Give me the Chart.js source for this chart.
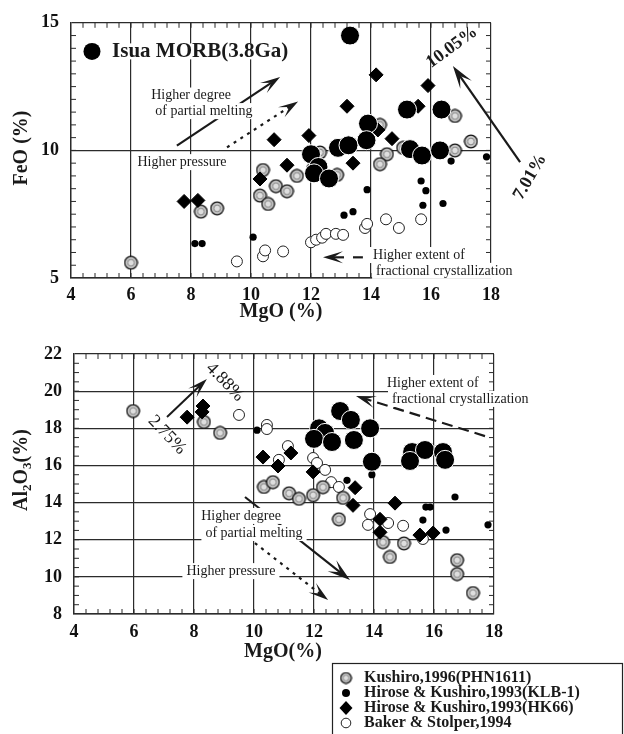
<!DOCTYPE html>
<html>
<head>
<meta charset="utf-8">
<script src="https://cdn.jsdelivr.net/npm/chart.js@4.4.1/dist/chart.umd.min.js"></script>
<style>
  body { margin: 0; background: #fff; width: 624px; height: 734px; overflow: hidden; position: relative; }
  canvas { position: absolute; left: 0; }
  #top { top: 0; }
  #bot { top: 325px; }
</style>
</head>
<body>
<canvas id="top" width="624" height="325"></canvas>
<canvas id="bot" width="624" height="409"></canvas>
<script>
/* tick values */
var mgoTicks = [4, 6, 8, 10, 12, 14, 16, 18];
var feoTicks = [5, 10, 15];
var alTicks = [8, 10, 12, 14, 16, 18, 20, 22];

/* FeO vs MgO, pairs are [MgO, FeO] */
var isuaFeO = [[13.3,14.5],[15.2,11.6],[16.35,11.6],[13.9,11.05],[13.85,10.4],[12.9,10.1],[13.25,10.2],
  [12.0,9.85],[12.25,9.35],[12.1,9.1],[12.6,8.9],[15.3,10.05],[15.7,9.8],[16.3,10.0]];
var kushiroFeO = [[6.0,5.6],[8.33,7.6],[8.87,7.73],[10.4,9.23],[10.83,8.6],[11.2,8.4],[11.53,9.0],[10.3,8.23],
  [10.57,7.9],[12.07,9.27],[12.3,9.92],[12.87,9.04],[14.3,11.0],[14.53,9.85],[14.3,9.46],[15.07,10.1],
  [16.8,11.35],[16.8,10.0],[17.33,10.35]];
var klbFeO = [[8.13,6.35],[8.37,6.35],[10.07,6.6],[13.1,7.46],[13.4,7.6],[13.87,8.46],[15.67,8.8],[15.83,8.42],
  [15.73,7.85],[16.4,7.92],[16.67,9.58],[17.85,9.75]];
var hk66FeO = [[7.77,8.0],[8.23,8.04],[10.3,8.88],[11.2,9.42],[10.77,10.42],[11.93,10.58],[13.2,11.73],[13.4,9.5],
  [14.23,10.8],[14.7,10.46],[15.57,11.73],[14.17,12.96],[15.9,12.54]];
var bakerFeO = [[9.53,5.65],[10.4,5.85],[10.47,6.08],[11.07,6.04],[12.0,6.4],[12.17,6.5],[12.37,6.58],[12.5,6.73],
  [12.83,6.73],[13.07,6.69],[13.8,6.96],[13.87,7.12],[14.5,7.3],[14.93,6.96],[15.67,7.3]];

/* Al2O3 vs MgO, pairs are [MgO, Al2O3] */
var isuaAl = [[12.87,18.93],[13.23,18.45],[13.87,18.0],[12.17,18.0],[12.37,17.75],[12.0,17.43],[12.6,17.26],
  [13.33,17.37],[13.93,16.2],[15.27,16.72],[15.7,16.83],[16.3,16.72],[15.2,16.24],[16.37,16.3]];
var kushiroAl = [[5.97,18.93],[8.33,18.34],[8.87,17.75],[10.33,14.84],[10.63,15.1],[11.17,14.5],[11.5,14.2],
  [11.97,14.4],[12.3,14.83],[12.97,14.25],[12.83,13.1],[14.3,11.87],[14.53,11.07],[15.0,11.8],[16.77,10.9],
  [16.77,10.15],[17.3,9.13]];
var klbAl = [[10.1,17.9],[13.93,15.5],[13.1,15.2],[16.7,14.3],[15.73,13.76],[15.87,13.76],[15.63,13.06],
  [16.4,12.52],[17.8,12.8]];
var hk66Al = [[7.77,18.6],[8.3,19.2],[8.27,18.88],[10.3,16.45],[10.8,15.97],[11.23,16.67],[11.97,15.65],
  [13.37,14.8],[13.3,13.85],[14.7,13.97],[14.2,13.1],[14.2,12.4],[15.53,12.25],[15.97,12.36]];
var bakerAl = [[9.5,18.72],[10.43,18.18],[10.43,17.96],[11.13,17.04],[10.83,16.3],[11.97,16.4],[12.1,16.13],
  [12.37,15.76],[12.57,15.1],[12.83,14.84],[13.87,13.38],[13.8,12.8],[14.47,12.9],[14.97,12.75],[15.63,12.04]];

var seriesNames = ['Kushiro,1996(PHN1611)', 'Hirose & Kushiro,1993(KLB-1)',
  'Hirose & Kushiro,1993(HK66)', 'Baker & Stolper,1994'];

var FONT = "'Liberation Serif', 'DejaVu Serif', serif";
var INK = '#1a1a1a';

function xy(arr) {
  return arr.map(function (p) { return { x: p[0], y: p[1] }; });
}

/* grey dotted circle marker */
function makeKushiro(size) {
  var c = document.createElement('canvas');
  c.width = size; c.height = size;
  var g = c.getContext('2d'), m = size / 2;
  g.beginPath(); g.arc(m, m, m - 1.2, 0, Math.PI * 2);
  g.fillStyle = '#c9c9c9'; g.fill();
  g.lineWidth = 1.3; g.strokeStyle = '#111'; g.stroke();
  g.beginPath(); g.arc(m, m, m * 0.45, 0, Math.PI * 2);
  g.fillStyle = '#dedede'; g.fill();
  g.lineWidth = 0.9; g.strokeStyle = '#777'; g.stroke();
  return c;
}
var kusImg = makeKushiro(15);
var kusSmall = makeKushiro(13);

function datasets(isua, kus, klb, hk, bak) {
  return [
    { label: 'Isua MORB(3.8Ga)', data: xy(isua), pointStyle: 'circle', pointRadius: 9.5,
      backgroundColor: '#000', borderColor: '#fff', borderWidth: 1 },
    { label: seriesNames[2], data: xy(hk), pointStyle: 'rectRot', pointRadius: 7,
      backgroundColor: '#000', borderColor: '#000', borderWidth: 1 },
    { label: seriesNames[1], data: xy(klb), pointStyle: 'circle', pointRadius: 3.6,
      backgroundColor: '#000', borderColor: '#000', borderWidth: 0 },
    { label: seriesNames[0], data: xy(kus), pointStyle: kusImg, pointRadius: 7 },
    { label: seriesNames[3], data: xy(bak), pointStyle: 'circle', pointRadius: 5.5,
      backgroundColor: '#fff', borderColor: '#222', borderWidth: 1 }
  ];
}

function axis(min, max, ticksArr, pad, fit, isX) {
  return {
    type: 'linear', min: min, max: max,
    afterBuildTicks: function (s) { s.ticks = ticksArr.map(function (v) { return { value: v }; }); },
    afterFit: function (s) { if (isX) s.height = fit; else s.width = fit; },
    ticks: { color: '#111', padding: pad, font: { family: FONT, size: 18, weight: 'bold' } },
    grid: { color: '#2b2b2b', lineWidth: 1.2, drawTicks: false },
    border: { display: true, color: '#2b2b2b', width: 1.4 }
  };
}

function minorTicks(chart, xStep, yStep) {
  var c = chart.ctx, a = chart.chartArea, X = chart.scales.x, Y = chart.scales.y, i, p;
  c.save();
  c.strokeStyle = '#2b2b2b'; c.lineWidth = 1;
  c.beginPath();
  var nx = Math.round((X.max - X.min) / xStep);
  for (i = 1; i < nx; i++) {
    p = X.getPixelForValue(X.min + i * xStep);
    c.moveTo(p, a.top); c.lineTo(p, a.top + 5);
    c.moveTo(p, a.bottom); c.lineTo(p, a.bottom - 5);
  }
  var ny = Math.round((Y.max - Y.min) / yStep);
  for (i = 1; i < ny; i++) {
    p = Y.getPixelForValue(Y.min + i * yStep);
    c.moveTo(a.left, p); c.lineTo(a.left + 5, p);
    c.moveTo(a.right, p); c.lineTo(a.right - 5, p);
  }
  c.stroke();
  c.restore();
}

function arrow(c, p1, p2, o) {
  o = o || {};
  var dx = p2[0] - p1[0], dy = p2[1] - p1[1], L = Math.hypot(dx, dy);
  var ux = dx / L, uy = dy / L, head = o.head || 17, w = o.w || 6;
  c.save();
  c.strokeStyle = INK; c.fillStyle = INK;
  c.lineWidth = o.lw || 2;
  c.setLineDash(o.dash || []);
  c.beginPath();
  c.moveTo(p1[0], p1[1]);
  c.lineTo(p2[0] - ux * head * 0.6, p2[1] - uy * head * 0.6);
  c.stroke();
  c.setLineDash([]);
  var bx = p2[0] - ux * head, by = p2[1] - uy * head;
  c.beginPath();
  c.moveTo(p2[0], p2[1]);
  c.lineTo(bx - uy * w - ux * 3, by + ux * w - uy * 3);
  c.lineTo(p2[0] - ux * head * 0.62, p2[1] - uy * head * 0.62);
  c.lineTo(bx + uy * w - ux * 3, by - ux * w - uy * 3);
  c.closePath();
  c.fill();
  c.restore();
}

function text(c, s, x, y, font, align, bg, rot) {
  c.save();
  c.font = font;
  c.textAlign = align || 'center';
  c.textBaseline = 'middle';
  c.translate(x, y);
  if (rot) c.rotate(rot);
  if (bg) {
    var w = c.measureText(s).width, x0 = align === 'left' ? 0 : -w / 2;
    c.fillStyle = '#fff';
    c.fillRect(x0 - 4, -8, w + 8, 16);
  }
  c.fillStyle = INK;
  c.fillText(s, 0, 0);
  c.restore();
}

var small = '14px ' + FONT;

var topDeco = {
  id: 'topDeco',
  afterDraw: function (chart) {
    var c = chart.ctx, X = chart.scales.x, Y = chart.scales.y;
    function P(m, f) { return [X.getPixelForValue(m), Y.getPixelForValue(f)]; }
    minorTicks(chart, 0.4, 0.5);

    // label for Isua
    var q = P(4.7, 13.88);
    c.save(); c.beginPath(); c.arc(q[0], q[1], 8.5, 0, Math.PI * 2); c.fillStyle = '#000'; c.fill(); c.restore();
    q = P(5.37, 13.88);
    text(c, 'Isua MORB(3.8Ga)', q[0], q[1], 'bold 21px ' + FONT, 'left', true);

    // partial melting (solid) and pressure (dotted)
    arrow(c, P(7.53, 10.19), P(10.97, 12.88), { lw: 2.2 });
    arrow(c, P(9.2, 10.12), P(11.57, 11.92), { lw: 2.2, dash: [3, 5] });
    q = P(8.0, 12.15); text(c, 'Higher degree', q[0], q[1], small, 'center', true);
    q = P(8.43, 11.54); text(c, 'of partial melting', q[0], q[1], small, 'center', true);
    q = P(7.7, 9.54); text(c, 'Higher pressure', q[0], q[1], small, 'center', true);

    // 7.01 -> 10.05
    arrow(c, P(18.97, 9.54), P(16.73, 13.31), { lw: 2.2, head: 20, w: 7 });
    q = P(16.7, 14.04); text(c, '10.05%', q[0], q[1], 'bold 18px ' + FONT, 'center', false, -0.63);
    q = P(19.3, 8.96); text(c, '7.01%', q[0], q[1], 'bold 18px ' + FONT, 'center', false, -1.05);

    // fractional crystallization
    arrow(c, P(13.1, 5.81), P(12.4, 5.81), { lw: 2.2, head: 17 });
    c.save(); c.strokeStyle = INK; c.lineWidth = 2.2; c.beginPath();
    q = P(13.4, 5.81); c.moveTo(q[0], q[1]); q = P(13.73, 5.81); c.lineTo(q[0], q[1]); c.stroke(); c.restore();
    q = P(14.07, 5.9); text(c, 'Higher extent of', q[0], q[1], small, 'left', true);
    q = P(14.17, 5.28); text(c, 'fractional crystallization', q[0], q[1], small, 'left', true);

    // axis titles
    text(c, 'MgO (%)', 281, 312, 'bold 20px ' + FONT, 'center');
    text(c, 'FeO (%)', 22, 148, 'bold 20px ' + FONT, 'center', false, -Math.PI / 2);
  }
};

function legendMarker(c, k, x, y) {
  c.save();
  if (k === 0) {
    c.drawImage(kusSmall, x - 6.5, y - 6.5);
  } else if (k === 1) {
    c.beginPath(); c.arc(x, y, 4, 0, Math.PI * 2); c.fillStyle = '#000'; c.fill();
  } else if (k === 2) {
    c.beginPath(); c.moveTo(x, y - 7); c.lineTo(x + 6.5, y); c.lineTo(x, y + 7); c.lineTo(x - 6.5, y);
    c.closePath(); c.fillStyle = '#000'; c.fill();
  } else {
    c.beginPath(); c.arc(x, y, 4.8, 0, Math.PI * 2); c.fillStyle = '#fff'; c.fill();
    c.lineWidth = 1; c.strokeStyle = '#222'; c.stroke();
  }
  c.restore();
}

var botDeco = {
  id: 'botDeco',
  afterDraw: function (chart) {
    var c = chart.ctx, X = chart.scales.x, Y = chart.scales.y;
    function P(m, f) { return [X.getPixelForValue(m), Y.getPixelForValue(f)]; }
    minorTicks(chart, 0.4, 0.5);
    var q;

    // 2.75 -> 4.88
    arrow(c, P(7.1, 18.61), P(8.43, 20.65), { lw: 2, head: 17 });
    q = P(9.03, 20.49); text(c, '4.88%', q[0], q[1], '18px ' + FONT, 'center', false, 0.8);
    q = P(7.1, 17.64); text(c, '2.75%', q[0], q[1], '18px ' + FONT, 'center', false, 0.8);

    // fractional crystallization (dashed)
    arrow(c, P(17.7, 17.58), P(13.4, 19.74), { lw: 2.2, dash: [11, 6], head: 17 });
    q = P(14.43, 20.44); text(c, 'Higher extent of', q[0], q[1], small, 'left', true);
    q = P(14.6, 19.58); text(c, 'fractional crystallization', q[0], q[1], small, 'left', true);

    // partial melting (solid) and pressure (dotted)
    arrow(c, P(9.7, 14.3), P(13.2, 9.83), { lw: 2.2, head: 20, w: 7 });
    arrow(c, P(10.03, 11.82), P(12.47, 8.75), { lw: 2.2, dash: [3, 5], head: 17 });
    q = P(9.57, 13.28); text(c, 'Higher degree', q[0], q[1], small, 'center', true);
    q = P(10.0, 12.36); text(c, 'of partial melting', q[0], q[1], small, 'center', true);
    q = P(9.23, 10.31); text(c, 'Higher pressure', q[0], q[1], small, 'center', true);

    // axis titles
    text(c, 'MgO(%)', 283, 327, 'bold 20px ' + FONT, 'center');
    c.save();
    c.translate(22, 145); c.rotate(-Math.PI / 2);
    c.fillStyle = INK; c.textBaseline = 'middle'; c.textAlign = 'left';
    var big = 'bold 20px ' + FONT, sub = 'bold 13px ' + FONT;
    var parts = [['Al', big, 0], ['2', sub, 6], ['O', big, 0], ['3', sub, 6], ['(%)', big, 0]];
    var tw = 0;
    parts.forEach(function (p) { c.font = p[1]; tw += c.measureText(p[0]).width; });
    var x = -tw / 2;
    parts.forEach(function (p) { c.font = p[1]; c.fillText(p[0], x, p[2]); x += c.measureText(p[0]).width; });
    c.restore();

    // legend box
    c.save();
    c.strokeStyle = '#222'; c.lineWidth = 1.2;
    c.strokeRect(332.5, 338.5, 290, 80);
    c.fillStyle = INK; c.font = 'bold 16px ' + FONT; c.textBaseline = 'middle'; c.textAlign = 'left';
    var rows = [353, 368, 383, 398];
    for (var k = 0; k < 4; k++) {
      legendMarker(c, k, 346, rows[k]);
      c.fillText(seriesNames[k], 364, rows[k]);
    }
    c.restore();
  }
};

Chart.defaults.font.family = FONT;

new Chart(document.getElementById('top'), {
  type: 'scatter',
  data: { datasets: datasets(isuaFeO, kushiroFeO, klbFeO, hk66FeO, bakerFeO) },
  options: {
    responsive: false, animation: false, devicePixelRatio: 1,
    layout: { padding: { left: 0, right: 133, top: 18, bottom: 0 } },
    plugins: { legend: { display: false }, tooltip: { enabled: false } },
    scales: {
      x: axis(4, 18, mgoTicks, 7, 47, true),
      y: axis(5, 15, feoTicks, 12, 71, false)
    }
  },
  plugins: [topDeco]
});

new Chart(document.getElementById('bot'), {
  type: 'scatter',
  data: { datasets: datasets(isuaAl, kushiroAl, klbAl, hk66Al, bakerAl) },
  options: {
    responsive: false, animation: false, devicePixelRatio: 1,
    layout: { padding: { left: 0, right: 130, top: 29, bottom: 0 } },
    plugins: { legend: { display: false }, tooltip: { enabled: false } },
    scales: {
      x: axis(4, 18, mgoTicks, 8, 120, true),
      y: axis(8, 22, alTicks, 12, 74, false)
    }
  },
  plugins: [botDeco]
});
</script>
</body>
</html>
